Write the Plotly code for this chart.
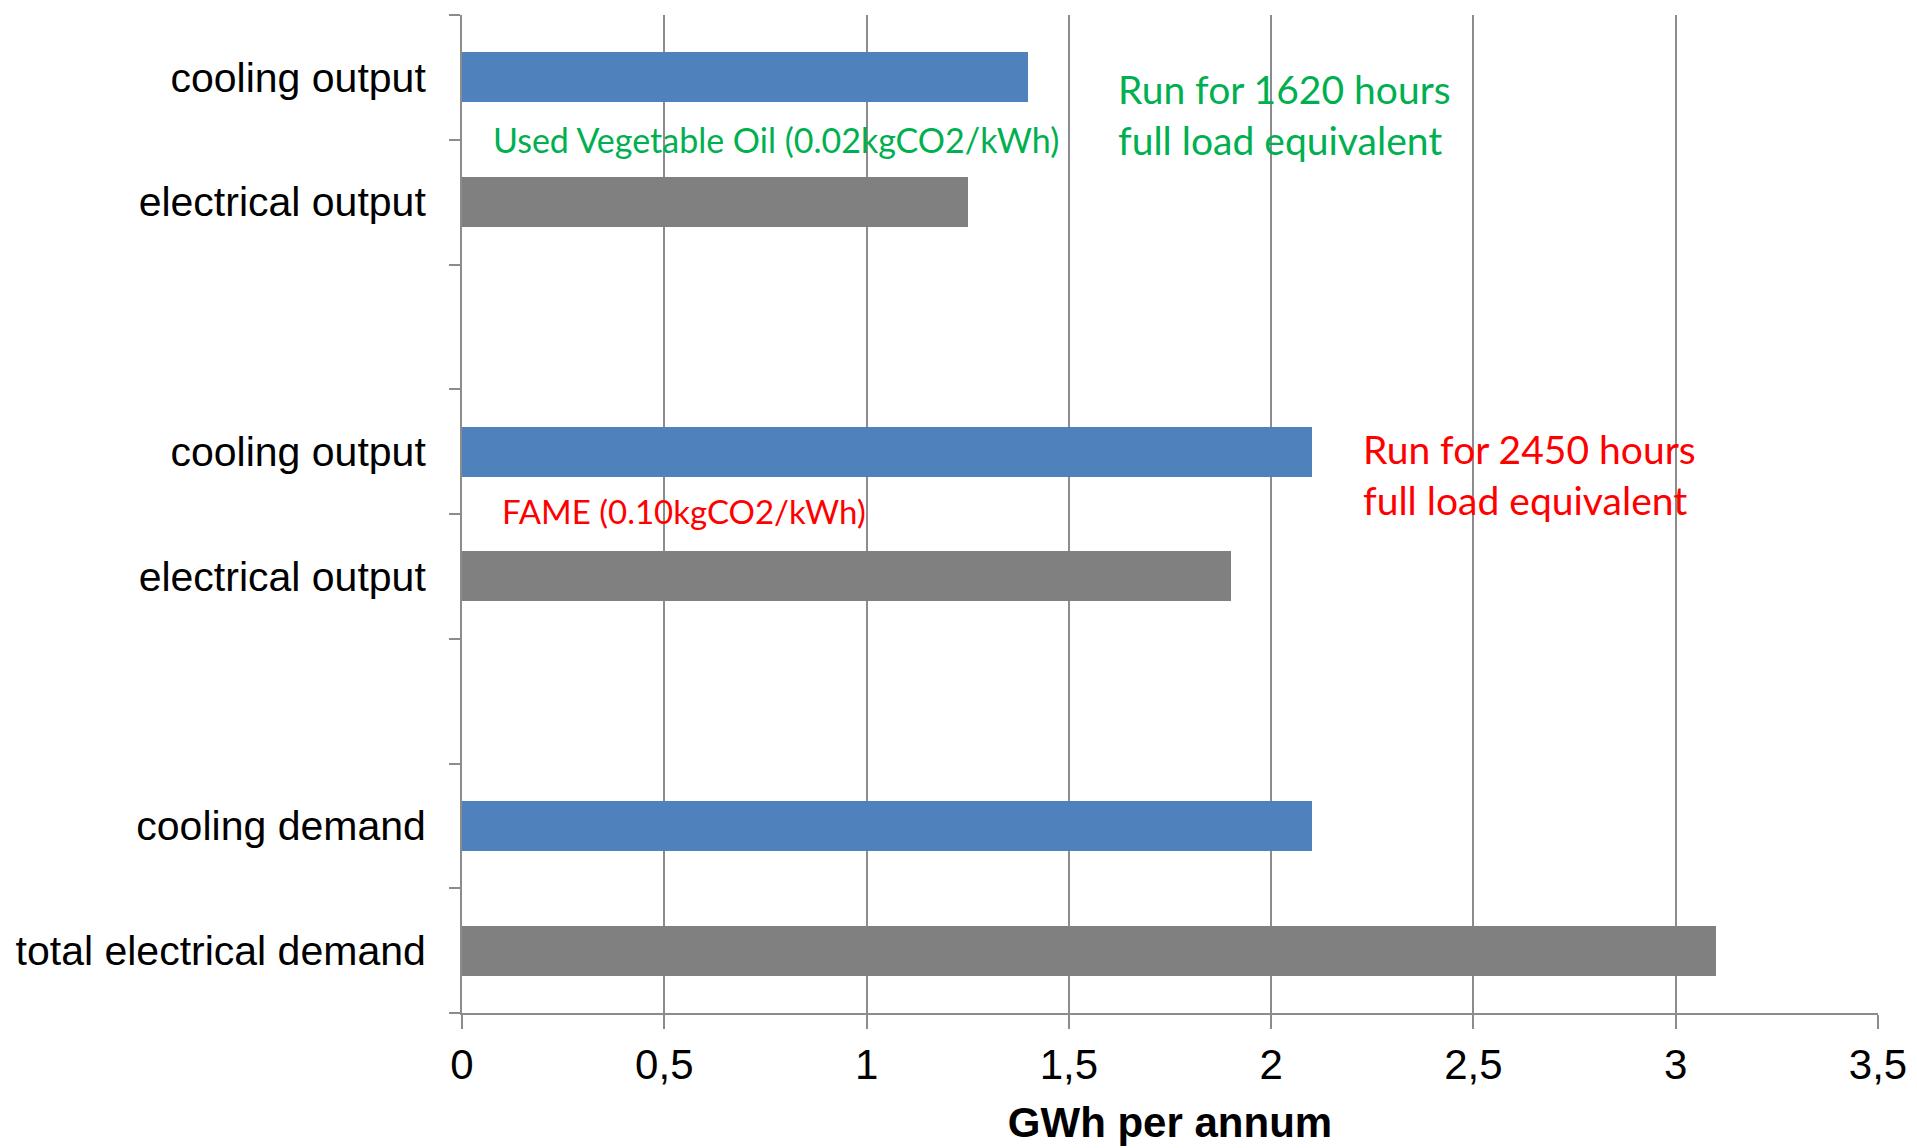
import plotly.graph_objects as go

# ---- data ----
categories = ["cooling output", "electrical output", "",
              "cooling output", "electrical output", "",
              "cooling demand", "total electrical demand"]
kinds = ["cooling", "electrical", None, "cooling", "electrical", None, "cooling", "electrical"]
values = [1.4, 1.25, None, 2.1, 1.9, None, 2.1, 3.1]
x_ticks = [0, 0.5, 1, 1.5, 2, 2.5, 3, 3.5]
x_title = "GWh per annum"

colors_by_kind = {"cooling": "#4F81BD", "electrical": "#808080", None: "rgba(0,0,0,0)"}

positions = list(range(len(categories)))
boundaries = [p - 0.5 for p in positions] + [positions[-1] + 0.5]
bar_colors = [colors_by_kind[k] for k in kinds]

GRID = "#8C8C8C"

fig = go.Figure()
fig.add_trace(go.Bar(
    x=values, y=positions, orientation="h",
    width=0.4,
    marker=dict(color=bar_colors, line=dict(width=0)),
    showlegend=False,
))

green = "#00B050"
red = "#FF0000"
ann_font = "Lato, Carlito, Calibri, sans-serif"

fig.add_annotation(x=1.617, y=0.30, xref="x", yref="y", xanchor="left", yanchor="middle",
                   text="Run for 1620 hours<br>full load equivalent", showarrow=False, align="left",
                   font=dict(family=ann_font, size=39, color=green))
fig.add_annotation(x=0.072, y=0.50, xref="x", yref="y", xanchor="left", yanchor="middle",
                   text="Used Vegetable Oil (0.02kgCO2/kWh)", showarrow=False, align="left",
                   font=dict(family=ann_font, size=34, color=green))
fig.add_annotation(x=2.221, y=3.18, xref="x", yref="y", xanchor="left", yanchor="middle",
                   text="Run for 2450 hours<br>full load equivalent", showarrow=False, align="left",
                   font=dict(family=ann_font, size=39, color=red))
fig.add_annotation(x=0.094, y=3.476, xref="x", yref="y", xanchor="left", yanchor="middle",
                   text="FAME (0.10kgCO2/kWh)", showarrow=False, align="left",
                   font=dict(family=ann_font, size=33, color=red))

fig.update_layout(
    width=1909, height=1140,
    margin=dict(l=454, r=39, t=7, b=135),
    plot_bgcolor="white", paper_bgcolor="white",
    separators=", ",
    font=dict(family="Liberation Sans, Arial, sans-serif", size=42, color="black"),
    xaxis=dict(
        range=[0, 3.5], tickvals=x_ticks,
        showgrid=True, gridcolor=GRID, gridwidth=2,
        showline=True, linecolor=GRID, linewidth=2,
        ticks="outside", ticklen=14, tickwidth=2, tickcolor=GRID,
        zeroline=False, automargin=False,
        tickfont=dict(size=42),
        title=dict(text="<b>" + x_title + "</b>", font=dict(size=42), standoff=20),
    ),
    yaxis=dict(
        range=[boundaries[-1], boundaries[0]],
        tickmode="array", tickvals=positions, ticktext=categories,
        ticks="outside", ticklen=26, tickcolor="rgba(0,0,0,0)",
        showgrid=False, zeroline=False, automargin=False,
        showline=True, linecolor=GRID, linewidth=2,
        minor=dict(tickmode="array", tickvals=boundaries, ticks="outside",
                   ticklen=11, tickwidth=2, tickcolor=GRID, showgrid=False),
        tickfont=dict(size=41),
    ),
    bargap=0,
)

fig.write_html("out.html")
